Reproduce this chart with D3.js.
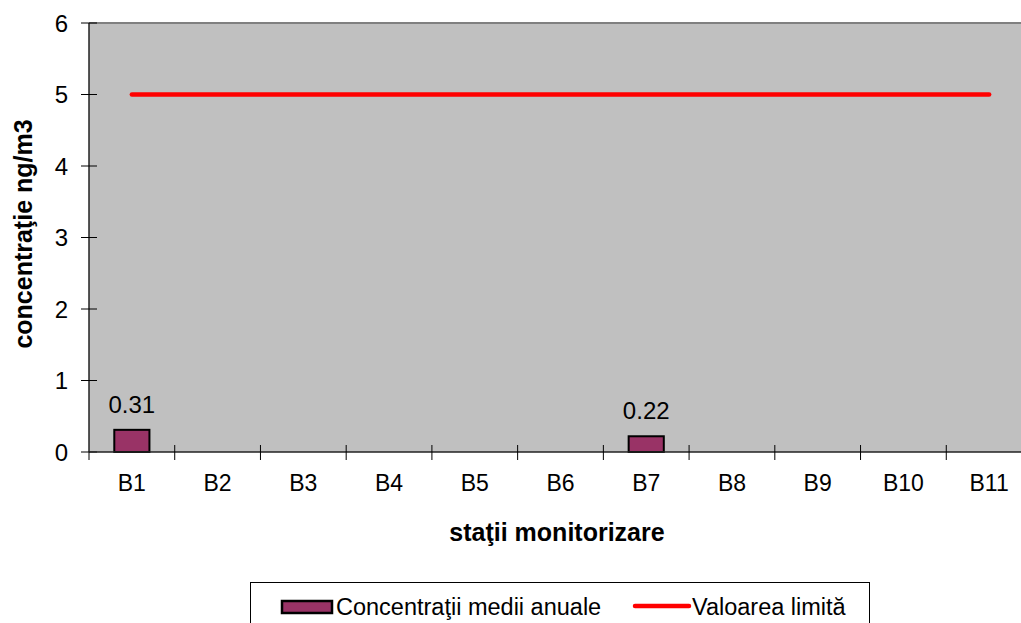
<!DOCTYPE html>
<html>
<head>
<meta charset="utf-8">
<script src="https://cdn.jsdelivr.net/npm/d3@7"></script>
<style>
  body { margin: 0; background: #fff; overflow: hidden; }
  svg { display: block; font-family: Arial, "Liberation Sans", sans-serif; }
</style>
</head>
<body>
<div id="root"></div>
<script>
const categories = ['B1', 'B2', 'B3', 'B4', 'B5', 'B6', 'B7', 'B8', 'B9', 'B10', 'B11'];
const concentratii = [0.31, null, null, null, null, null, 0.22, null, null, null, null];
const valoareLimita = [5, 5, 5, 5, 5, 5, 5, 5, 5, 5, 5];
const yTicks = [0, 1, 2, 3, 4, 5, 6];

const width = 1021, height = 623;
const plotLeft = 89, plotTop = 23, plotRight = 1032, plotBottom = 452;

const svg = d3.select('#root').append('svg')
    .attr('width', width)
    .attr('height', height);

const x = d3.scaleBand()
    .domain(categories)
    .range([plotLeft, plotRight]);

const y = d3.scaleLinear()
    .domain([0, 6])
    .range([plotBottom, plotTop]);

// zona graficului
svg.append('rect')
    .attr('x', plotLeft).attr('y', plotTop)
    .attr('width', plotRight - plotLeft).attr('height', plotBottom - plotTop)
    .attr('fill', '#c0c0c0');

svg.append('line')
    .attr('x1', plotLeft).attr('x2', plotRight)
    .attr('y1', plotTop).attr('y2', plotTop)
    .attr('stroke', '#808080').attr('stroke-width', 2);

// bare
const barW = x.bandwidth() * 0.41;
categories.forEach((c, i) => {
    const v = concentratii[i];
    if (v == null) return;
    const cx = x(c) + x.bandwidth() / 2;
    svg.append('rect')
        .attr('x', cx - barW / 2)
        .attr('y', y(v))
        .attr('width', barW)
        .attr('height', y(0) - y(v))
        .attr('fill', '#993366')
        .attr('stroke', '#000')
        .attr('stroke-width', 2);
    svg.append('text')
        .attr('x', cx)
        .attr('y', y(v) - 17)
        .attr('text-anchor', 'middle')
        .attr('font-size', 24)
        .text(v.toFixed(2));
});

// valoarea limita
const line = d3.line()
    .x((d, i) => x(categories[i]) + x.bandwidth() / 2)
    .y(d => y(d));

svg.append('path')
    .datum(valoareLimita)
    .attr('d', line)
    .attr('fill', 'none')
    .attr('stroke', '#ff0000')
    .attr('stroke-width', 4.5)
    .attr('stroke-linecap', 'round');

// axa y
const yAxis = svg.append('g');
yAxis.append('line')
    .attr('x1', plotLeft).attr('x2', plotLeft)
    .attr('y1', plotTop).attr('y2', plotBottom)
    .attr('stroke', '#222').attr('stroke-width', 1.5);
yTicks.forEach(t => {
    yAxis.append('line')
        .attr('x1', plotLeft - 8).attr('x2', plotLeft + 8)
        .attr('y1', y(t)).attr('y2', y(t))
        .attr('stroke', '#000');
    yAxis.append('text')
        .attr('x', 68)
        .attr('y', y(t))
        .attr('dy', '0.36em')
        .attr('text-anchor', 'end')
        .attr('font-size', 24)
        .text(t);
});

// axa x
const xAxis = svg.append('g');
xAxis.append('line')
    .attr('x1', plotLeft).attr('x2', plotRight)
    .attr('y1', plotBottom).attr('y2', plotBottom)
    .attr('stroke', '#222').attr('stroke-width', 1.5);
categories.forEach((c, i) => {
    xAxis.append('line')
        .attr('x1', x(c)).attr('x2', x(c))
        .attr('y1', i === 0 ? plotBottom : plotBottom - 7).attr('y2', plotBottom + 8)
        .attr('stroke', '#000');
    xAxis.append('text')
        .attr('x', x(c) + x.bandwidth() / 2)
        .attr('y', 491)
        .attr('text-anchor', 'middle')
        .attr('font-size', 23)
        .text(c);
});

// titluri axe
svg.append('text')
    .attr('x', 557).attr('y', 541)
    .attr('text-anchor', 'middle')
    .attr('font-size', 25)
    .attr('font-weight', 'bold')
    .text('staţii monitorizare');

svg.append('text')
    .attr('transform', 'translate(32,234) rotate(-90)')
    .attr('text-anchor', 'middle')
    .attr('font-size', 25)
    .attr('font-weight', 'bold')
    .text('concentraţie ng/m3');

// legenda
const legend = svg.append('g');
legend.append('rect')
    .attr('x', 250.5).attr('y', 582.5)
    .attr('width', 619).attr('height', 50)
    .attr('fill', '#fff')
    .attr('stroke', '#000');
legend.append('rect')
    .attr('x', 282).attr('y', 601)
    .attr('width', 50).attr('height', 12)
    .attr('fill', '#993366')
    .attr('stroke', '#000')
    .attr('stroke-width', 2.5);
legend.append('text')
    .attr('x', 336).attr('y', 615)
    .attr('font-size', 23.5)
    .text('Concentraţii medii anuale');
legend.append('line')
    .attr('x1', 635).attr('x2', 689)
    .attr('y1', 606).attr('y2', 606)
    .attr('stroke', '#ff0000')
    .attr('stroke-width', 4.5)
    .attr('stroke-linecap', 'round');
legend.append('text')
    .attr('x', 692).attr('y', 615)
    .attr('font-size', 23.5)
    .text('Valoarea limită');
</script>
</body>
</html>
